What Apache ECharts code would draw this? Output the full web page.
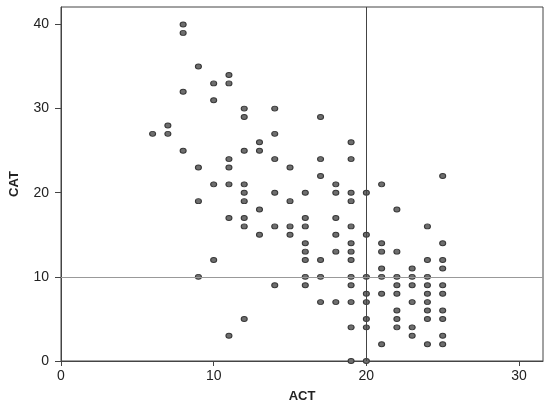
<!DOCTYPE html>
<html>
<head>
<meta charset="utf-8">
<script src="https://cdn.jsdelivr.net/npm/echarts@6/dist/echarts.min.js"></script>
<style>html,body{margin:0;padding:0;background:#fff}#c{width:550px;height:409px}</style>
</head>
<body>
<div id="c"></div>
<script>
// ACT value for each column of points, and the CAT values in that column
const actValues = [6, 7, 8, 9, 10, 11, 12, 13, 14, 15, 16, 17, 18, 19, 20, 21, 22, 23, 24, 25];
const catByAct = [
  [27],
  [28, 27],
  [40, 39, 32, 25],
  [35, 23, 19, 10],
  [33, 31, 21, 12],
  [34, 33, 24, 23, 21, 17, 3],
  [30, 29, 25, 21, 20, 19, 17, 16, 5],
  [26, 25, 18, 15],
  [30, 27, 24, 20, 16, 9],
  [23, 19, 16, 15],
  [20, 17, 16, 14, 13, 12, 10, 9],
  [29, 24, 22, 12, 10, 7],
  [21, 20, 17, 15, 13, 7],
  [26, 24, 20, 19, 16, 14, 13, 12, 10, 9, 7, 4, 0],
  [20, 15, 10, 8, 7, 5, 4, 0],
  [21, 14, 13, 11, 10, 8, 2],
  [18, 13, 10, 9, 8, 6, 5, 4],
  [11, 10, 9, 7, 4, 3],
  [16, 12, 10, 9, 8, 7, 6, 5, 2],
  [22, 14, 12, 11, 9, 8, 6, 5, 3, 2]
];
const xTicks = [0, 10, 20, 30];
const yTicks = [0, 10, 20, 30, 40];
const refACT = 20;
const refCAT = 10;

const points = [];
actValues.forEach((a, i) => catByAct[i].forEach(c => points.push([a, c])));

const font = 'Liberation Sans, Arial, sans-serif';
const chart = echarts.init(document.getElementById('c'), null, {renderer: 'canvas'});
chart.setOption({
  animation: false,
  grid: {left: 58, right: 7, top: 7, bottom: 48, show: true, borderColor: '#444', borderWidth: 1, backgroundColor: 'transparent'},
  xAxis: {
    type: 'value', min: 0, max: 31.57, interval: 10,
    name: 'ACT', nameLocation: 'middle', nameGap: 29,
    nameTextStyle: {fontFamily: font, fontSize: 13, fontWeight: 'bold', color: '#222'},
    axisLine: {show: true, lineStyle: {color: '#444', width: 1}},
    axisTick: {show: true, length: 5, inside: false, lineStyle: {color: '#444'}, customValues: xTicks},
    axisLabel: {fontFamily: font, fontSize: 14, color: '#222', margin: 8, customValues: xTicks},
    splitLine: {show: false}
  },
  yAxis: {
    type: 'value', min: 0, max: 42.08, interval: 10,
    name: 'CAT', nameLocation: 'middle', nameGap: 40, nameRotate: 90,
    nameTextStyle: {fontFamily: font, fontSize: 13, fontWeight: 'bold', color: '#222'},
    axisLine: {show: true, lineStyle: {color: '#444', width: 1}},
    axisTick: {show: true, length: 6, inside: false, lineStyle: {color: '#444'}, customValues: yTicks},
    axisLabel: {fontFamily: font, fontSize: 14, color: '#222', margin: 12, customValues: yTicks},
    splitLine: {show: false}
  },
  series: [{
    type: 'scatter',
    data: points,
    symbol: 'circle',
    symbolSize: [6, 5],
    itemStyle: {color: '#6e6e6e', borderColor: '#383838', borderWidth: 1, opacity: 1},
    z: 3,
    markLine: {
      silent: true, symbol: 'none', animation: false,
      label: {show: false},
      data: [
        {xAxis: refACT, lineStyle: {color: '#444', width: 1, type: 'solid'}},
        {yAxis: refCAT, lineStyle: {color: '#999', width: 1, type: 'solid'}}
      ]
    }
  }]
});
</script>
</body>
</html>
